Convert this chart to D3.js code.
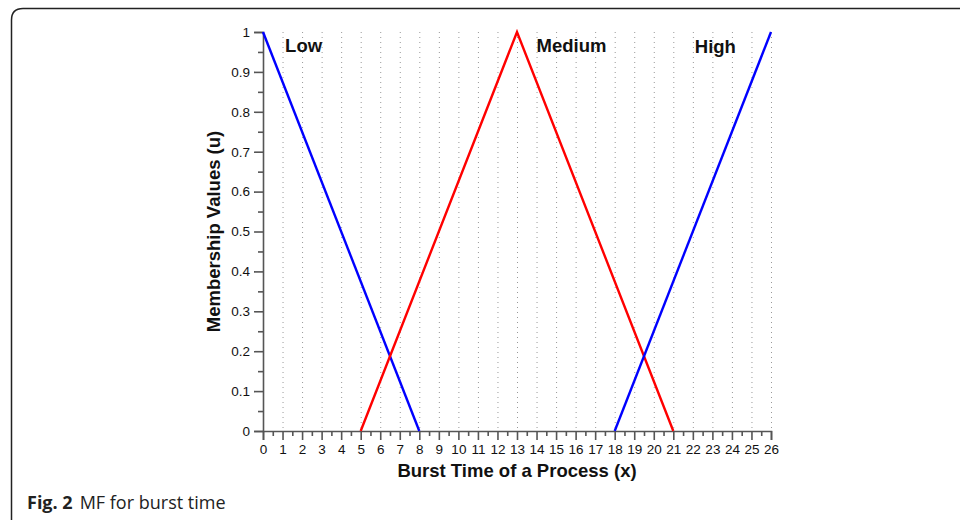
<!DOCTYPE html>
<html>
<head>
<meta charset="utf-8">
<script src="https://cdn.jsdelivr.net/npm/d3@7"></script>
<style>
  body { margin: 0; background: #fff; }
  svg { display: block; }
</style>
</head>
<body>
<div id="chart"></div>
<script>
// membership functions, x = burst time, y = membership value
var lowPoints = [[0, 1], [8, 0]];
var mediumPoints = [[5, 0], [13, 1], [21, 0]];
var highPoints = [[18, 0], [26, 1]];
var setNames = ["Low", "Medium", "High"];
var labelPos = [[1.13, 0.95], [14.0, 0.95], [22.1, 0.947]];
var xTicks = d3.range(0, 27);
var yTicks = [0, 0.1, 0.2, 0.3, 0.4, 0.5, 0.6, 0.7, 0.8, 0.9, 1];

var width = 960, height = 520;
var x0 = 263, x1 = 771, y0 = 431, y1 = 32;
var font = "Liberation Sans, Arial, Helvetica, sans-serif";

var svg = d3.select("#chart").append("svg")
    .attr("width", width)
    .attr("height", height);

// frame of the figure box (right and bottom fall outside the view)
svg.append("path")
    .attr("d", "M11.5,530 L11.5,20 Q11.5,8.5 23,8.5 L970,8.5")
    .attr("fill", "none")
    .attr("stroke", "#222")
    .attr("stroke-width", 1.5);

var x = d3.scaleLinear().domain([0, 26]).range([x0, x1]);
var y = d3.scaleLinear().domain([0, 1]).range([y0, y1]);

// dotted vertical grid
svg.append("g").selectAll("line")
    .data(xTicks.slice(1))
    .enter().append("line")
    .attr("x1", function(d) { return x(d) + 0.5 })
    .attr("x2", function(d) { return x(d) + 0.5 })
    .attr("y1", y(1))
    .attr("y2", y(0))
    .attr("stroke", "#999")
    .attr("stroke-width", 1)
    .attr("stroke-dasharray", "1,4");

// x axis
var xAxis = d3.axisBottom(x).tickValues(xTicks).tickSize(9).tickPadding(4)
    .tickFormat(d3.format("d"));
svg.append("g")
    .attr("transform", "translate(0," + y0 + ")")
    .call(xAxis);
svg.append("g")
    .attr("transform", "translate(0," + y0 + ")")
    .call(d3.axisBottom(x).tickValues(xTicks.slice(0, -1).map(function(d) { return d + 0.5 }))
        .tickSize(5).tickFormat(""))
    .select(".domain").remove();

// y axis
var yAxis = d3.axisLeft(y).tickValues(yTicks).tickSize(9).tickPadding(4)
    .tickFormat(function(d) { return d3.format("")(+d.toFixed(1)) });
svg.append("g")
    .attr("transform", "translate(" + x0 + ",0)")
    .call(yAxis);
svg.append("g")
    .attr("transform", "translate(" + x0 + ",0)")
    .call(d3.axisLeft(y).tickValues(yTicks.slice(0, -1).map(function(d) { return d + 0.05 }))
        .tickSize(5).tickFormat(""))
    .select(".domain").remove();

svg.selectAll(".domain, .tick line")
    .attr("stroke", "#555")
    .attr("stroke-width", 1.6);
svg.selectAll(".tick text")
    .attr("font-family", font)
    .attr("font-size", 13.5)
    .attr("fill", "#111");

// membership lines
var line = d3.line()
    .x(function(d) { return x(d[0]) })
    .y(function(d) { return y(d[1]) });

var series = [
    { pts: lowPoints, color: "#0000ff" },
    { pts: mediumPoints, color: "#ff0000" },
    { pts: highPoints, color: "#0000ff" }
];
svg.append("g").selectAll("path")
    .data(series)
    .enter().append("path")
    .attr("d", function(d) { return line(d.pts) })
    .attr("fill", "none")
    .attr("stroke", function(d) { return d.color })
    .attr("stroke-width", 2.4);

// set labels
svg.append("g").selectAll("text")
    .data(setNames)
    .enter().append("text")
    .attr("x", function(d, i) { return x(labelPos[i][0]) })
    .attr("y", function(d, i) { return y(labelPos[i][1]) })
    .attr("font-family", font)
    .attr("font-weight", "bold")
    .attr("font-size", 18.5)
    .attr("fill", "#111")
    .text(function(d) { return d });

// axis titles
svg.append("text")
    .attr("x", (x0 + x1) / 2)
    .attr("y", 477)
    .attr("text-anchor", "middle")
    .attr("font-family", font)
    .attr("font-weight", "bold")
    .attr("font-size", 18.5)
    .attr("fill", "#111")
    .text("Burst Time of a Process (x)");

svg.append("text")
    .attr("transform", "translate(220," + (y0 + y1) / 2 + ") rotate(-90)")
    .attr("text-anchor", "middle")
    .attr("font-family", font)
    .attr("font-weight", "bold")
    .attr("font-size", 18.5)
    .attr("fill", "#111")
    .text("Membership Values (u)");

// caption
var cap = svg.append("text")
    .attr("x", 27)
    .attr("y", 509)
    .attr("font-family", "Open Sans, Noto Sans, sans-serif")
    .attr("font-size", 18)
    .attr("fill", "#222");
cap.append("tspan").attr("font-weight", "bold").text("Fig. 2");
cap.append("tspan").attr("dx", 7).text("MF for burst time");
</script>
</body>
</html>
